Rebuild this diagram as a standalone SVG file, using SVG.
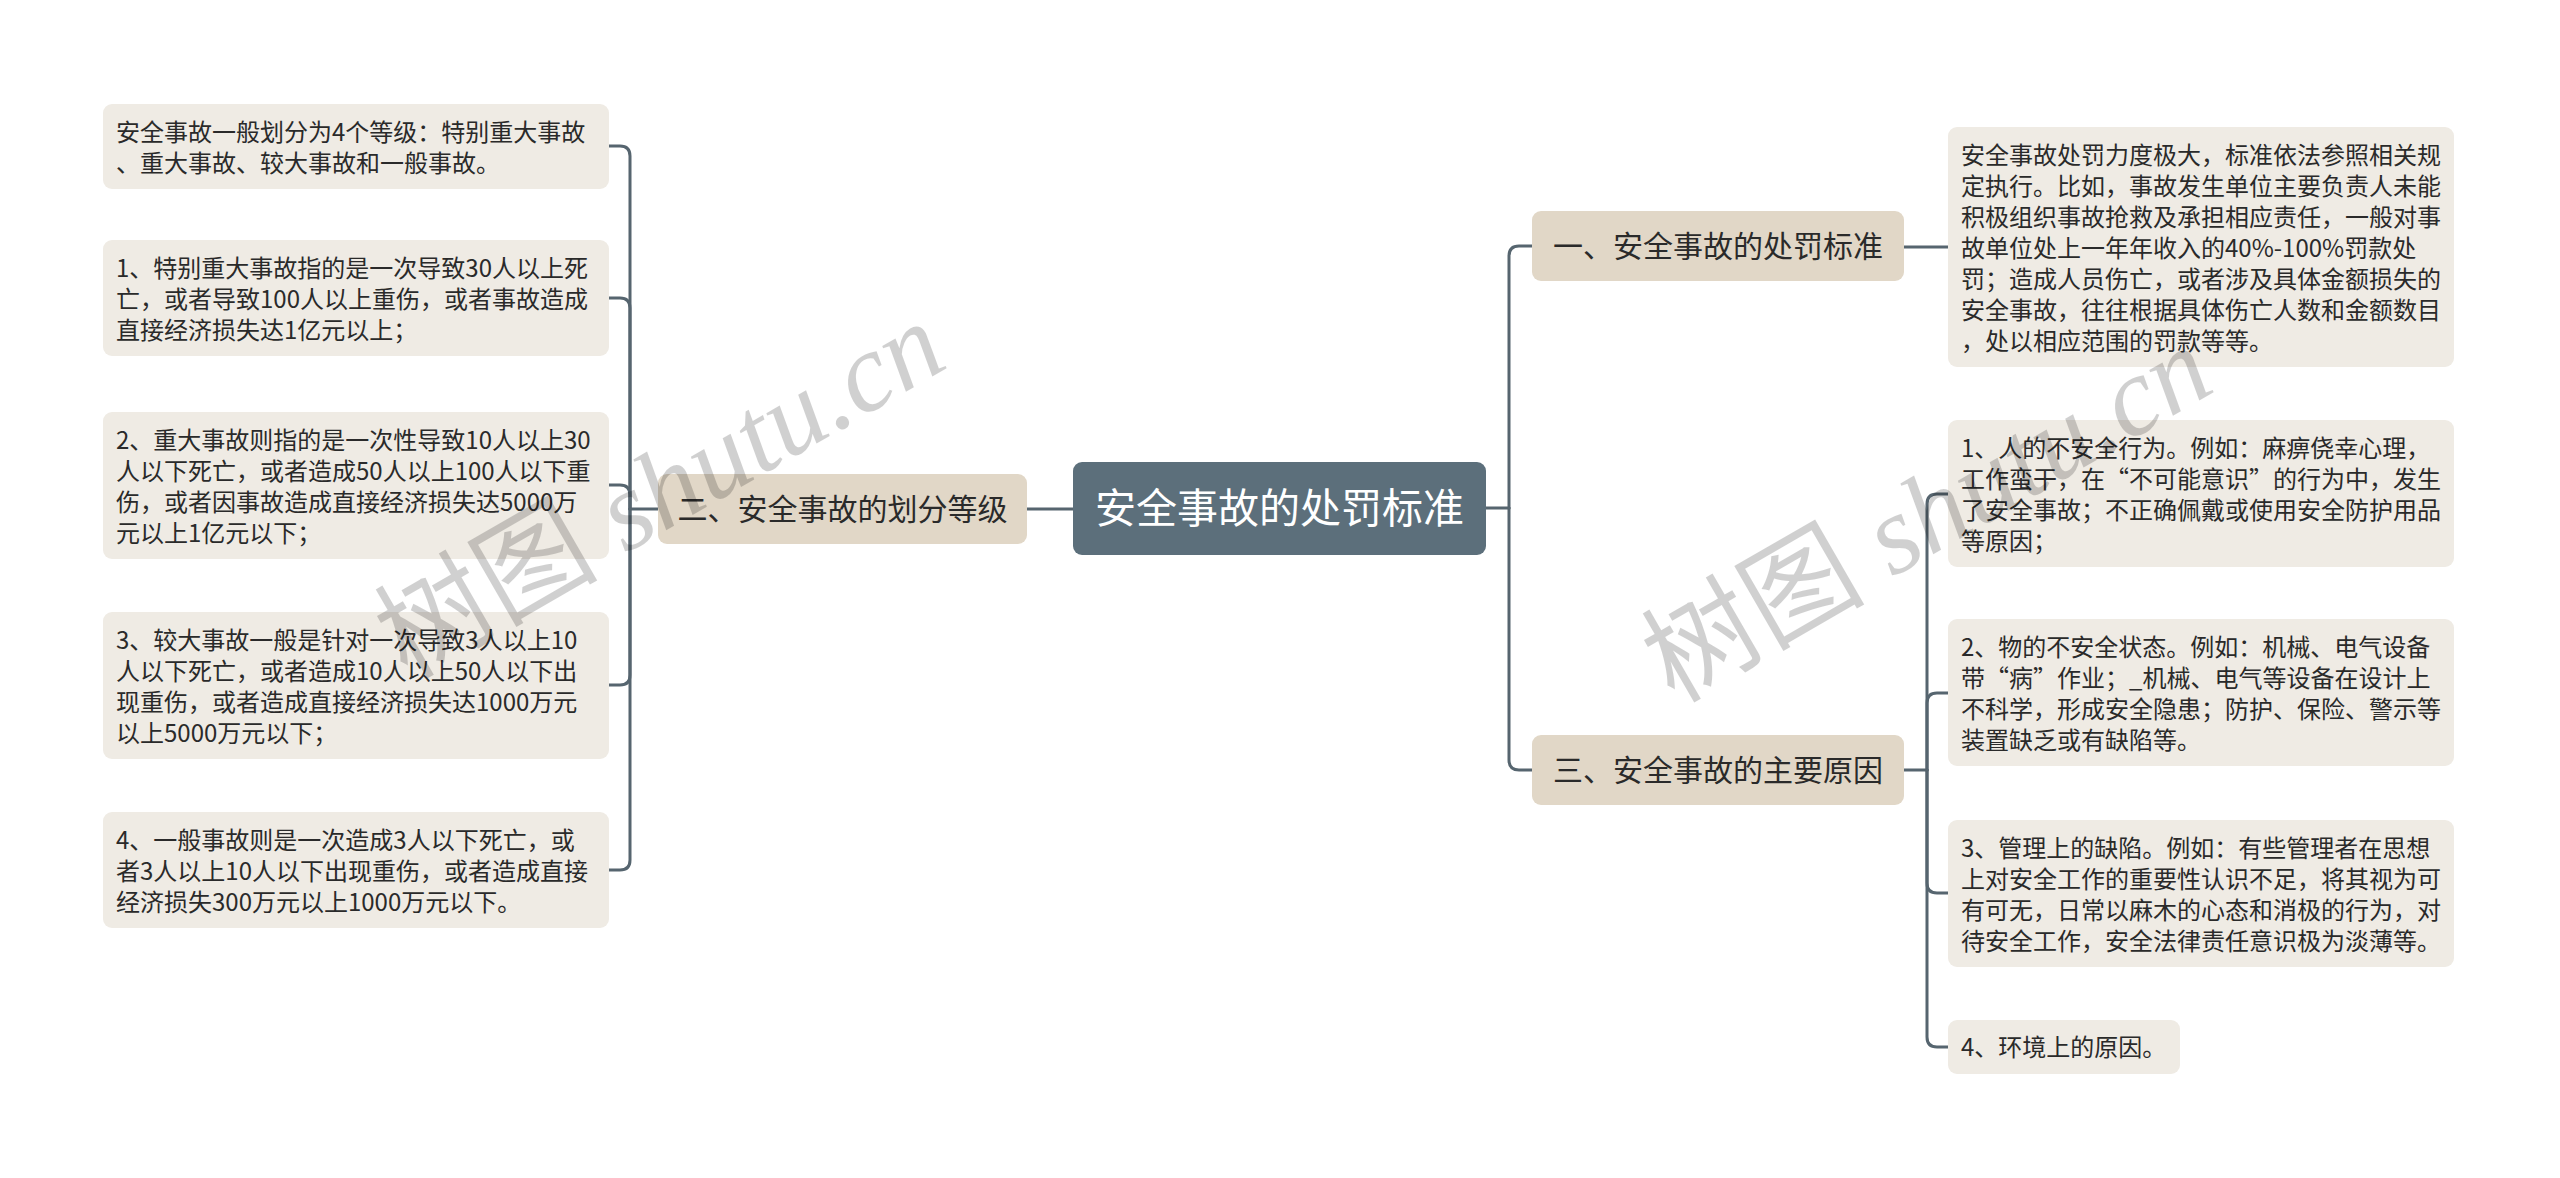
<svg xmlns="http://www.w3.org/2000/svg" width="2560" height="1178" viewBox="0 0 2560 1178">
<style>
.leaf{fill:#efebe4}
.branch{fill:#e1d7c7}
.root{fill:#5c6f7b}
.t{font-family:"Noto Sans CJK SC","Noto Sans",sans-serif;font-size:24px;fill:#2a2a2a}
.bt{font-family:"Noto Sans CJK SC","Noto Sans",sans-serif;font-size:30px;fill:#2a2a2a}
.rt{font-family:"Noto Sans CJK SC","Noto Sans",sans-serif;font-size:41px;fill:#ffffff}
.c{fill:none;stroke:#56656f;stroke-width:3;stroke-linecap:round}
.wm{font-family:"Liberation Serif","Noto Sans CJK SC",serif;font-size:112px;fill:#000;opacity:0.18}
</style>
<rect width="2560" height="1178" fill="#ffffff"/>
<g id="connectors">
<path class="c" d="M1027 509 H1073"/>
<path class="c" d="M658 509 H630"/>
<path class="c" d="M630 509 V156 Q630 146 620 146 H609"/>
<path class="c" d="M630 509 V308 Q630 298 620 298 H609"/>
<path class="c" d="M630 509 V495 Q630 485 620 485 H609"/>
<path class="c" d="M630 509 V675 Q630 685 620 685 H609"/>
<path class="c" d="M630 509 V860 Q630 870 620 870 H609"/>
<path class="c" d="M1486 508 H1509"/>
<path class="c" d="M1509 508 V256 Q1509 246 1519 246 H1532"/>
<path class="c" d="M1509 508 V760 Q1509 770 1519 770 H1532"/>
<path class="c" d="M1904 247 H1948"/>
<path class="c" d="M1904 770 H1927"/>
<path class="c" d="M1927 770 V504 Q1927 494 1937 494 H1948"/>
<path class="c" d="M1927 770 V703 Q1927 693 1937 693 H1948"/>
<path class="c" d="M1927 770 V883 Q1927 893 1937 893 H1948"/>
<path class="c" d="M1927 770 V1037 Q1927 1047 1937 1047 H1948"/>
</g>
<g id="root">
<rect class="root" x="1073" y="462" width="413" height="93" rx="9"/>
<text class="rt" x="1279.5" y="523" text-anchor="middle">安全事故的处罚标准</text>
</g>
<g id="b2">
<rect class="branch" x="658" y="474" width="369" height="70" rx="9"/>
<text class="bt" x="842.5" y="520" text-anchor="middle">二、安全事故的划分等级</text>
</g>
<g id="b1">
<rect class="branch" x="1532" y="211" width="372" height="70" rx="9"/>
<text class="bt" x="1718" y="257" text-anchor="middle">一、安全事故的处罚标准</text>
</g>
<g id="b3">
<rect class="branch" x="1532" y="735" width="372" height="70" rx="9"/>
<text class="bt" x="1718" y="781" text-anchor="middle">三、安全事故的主要原因</text>
</g>
<g id="l1">
<rect class="leaf" x="103" y="104" width="506" height="85" rx="9"/>
<text class="t" x="116" y="141">安全事故一般划分为4个等级：特别重大事故</text>
<text class="t" x="116" y="172">、重大事故、较大事故和一般事故。</text>
</g>
<g id="l2">
<rect class="leaf" x="103" y="240" width="506" height="116" rx="9"/>
<text class="t" x="116" y="277">1、特别重大事故指的是一次导致30人以上死</text>
<text class="t" x="116" y="308">亡，或者导致100人以上重伤，或者事故造成</text>
<text class="t" x="116" y="339">直接经济损失达1亿元以上；</text>
</g>
<g id="l3">
<rect class="leaf" x="103" y="412" width="506" height="147" rx="9"/>
<text class="t" x="116" y="449">2、重大事故则指的是一次性导致10人以上30</text>
<text class="t" x="116" y="480">人以下死亡，或者造成50人以上100人以下重</text>
<text class="t" x="116" y="511">伤，或者因事故造成直接经济损失达5000万</text>
<text class="t" x="116" y="542">元以上1亿元以下；</text>
</g>
<g id="l4">
<rect class="leaf" x="103" y="612" width="506" height="147" rx="9"/>
<text class="t" x="116" y="649">3、较大事故一般是针对一次导致3人以上10</text>
<text class="t" x="116" y="680">人以下死亡，或者造成10人以上50人以下出</text>
<text class="t" x="116" y="711">现重伤，或者造成直接经济损失达1000万元</text>
<text class="t" x="116" y="742">以上5000万元以下；</text>
</g>
<g id="l5">
<rect class="leaf" x="103" y="812" width="506" height="116" rx="9"/>
<text class="t" x="116" y="849">4、一般事故则是一次造成3人以下死亡，或</text>
<text class="t" x="116" y="880">者3人以上10人以下出现重伤，或者造成直接</text>
<text class="t" x="116" y="911">经济损失300万元以上1000万元以下。</text>
</g>
<g id="r1">
<rect class="leaf" x="1948" y="127" width="506" height="240" rx="9"/>
<text class="t" x="1961" y="164">安全事故处罚力度极大，标准依法参照相关规</text>
<text class="t" x="1961" y="195">定执行。比如，事故发生单位主要负责人未能</text>
<text class="t" x="1961" y="226">积极组织事故抢救及承担相应责任，一般对事</text>
<text class="t" x="1961" y="257">故单位处上一年年收入的40%-100%罚款处</text>
<text class="t" x="1961" y="288">罚；造成人员伤亡，或者涉及具体金额损失的</text>
<text class="t" x="1961" y="319">安全事故，往往根据具体伤亡人数和金额数目</text>
<text class="t" x="1961" y="350">，处以相应范围的罚款等等。</text>
</g>
<g id="r2">
<rect class="leaf" x="1948" y="420" width="506" height="147" rx="9"/>
<text class="t" x="1961" y="457">1、人的不安全行为。例如：麻痹侥幸心理，</text>
<text class="t" x="1961" y="488">工作蛮干，在“不可能意识”的行为中，发生</text>
<text class="t" x="1961" y="519">了安全事故；不正确佩戴或使用安全防护用品</text>
<text class="t" x="1961" y="550">等原因；</text>
</g>
<g id="r3">
<rect class="leaf" x="1948" y="619" width="506" height="147" rx="9"/>
<text class="t" x="1961" y="656">2、物的不安全状态。例如：机械、电气设备</text>
<text class="t" x="1961" y="687">带“病”作业；_机械、电气等设备在设计上</text>
<text class="t" x="1961" y="718">不科学，形成安全隐患；防护、保险、警示等</text>
<text class="t" x="1961" y="749">装置缺乏或有缺陷等。</text>
</g>
<g id="r4">
<rect class="leaf" x="1948" y="820" width="506" height="147" rx="9"/>
<text class="t" x="1961" y="857">3、管理上的缺陷。例如：有些管理者在思想</text>
<text class="t" x="1961" y="888">上对安全工作的重要性认识不足，将其视为可</text>
<text class="t" x="1961" y="919">有可无，日常以麻木的心态和消极的行为，对</text>
<text class="t" x="1961" y="950">待安全工作，安全法律责任意识极为淡薄等。</text>
</g>
<g id="r5">
<rect class="leaf" x="1948" y="1020" width="232" height="54" rx="9"/>
<text class="t" x="1961" y="1056">4、环境上的原因。</text>
</g>
<g id="watermark">
<text class="wm" x="660" y="528" text-anchor="middle" transform="rotate(-30 660 490)">树图 <tspan font-style="italic">shutu.cn</tspan></text>
<text class="wm" x="1927" y="552" text-anchor="middle" transform="rotate(-30 1927 514)">树图 <tspan font-style="italic">shutu.cn</tspan></text>
</g>
</svg>
